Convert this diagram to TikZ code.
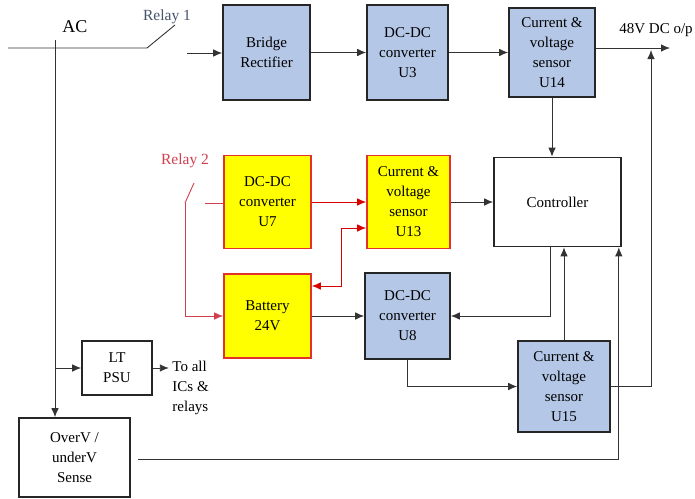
\documentclass[tikz,border=0pt]{standalone}
\usepackage{fontspec}
\setmainfont{Liberation Serif}
\newfontfamily\diafont{Liberation Serif}
\usepackage{xcolor}
\usetikzlibrary{arrows.meta,positioning,calc}

\definecolor{blockblue}{HTML}{B4C7E7}
\definecolor{blockyel}{HTML}{FFFF00}
\definecolor{yelrim}{HTML}{E2322A}
\definecolor{relayred}{HTML}{D0404F}
\definecolor{relayblue}{HTML}{44546A}
\definecolor{wire}{HTML}{333333}

\begin{document}
\begin{tikzpicture}[x=1pt,y=-1pt,
    font=\diafont\fontsize{15}{20}\selectfont,
    blk/.style={rectangle,draw=black!85,line width=1.6pt,align=center,inner sep=1pt},
    bluebox/.style={blk,fill=blockblue},
    yelbox/.style={blk,fill=blockyel,draw=yelrim},
    plainbox/.style={blk,fill=white},
    >={Latex[length=9pt,width=7.5pt]},
    every path/.style={line width=0.9pt},
    redline/.style={draw=relayred,line width=0.9pt}]
    \useasboundingbox (0,0) rectangle (695,498);
    % power path
    \node[bluebox,minimum width=87pt,minimum height=95pt] (bridge) at (266.5,52.5) {Bridge\\Rectifier};
    \node[bluebox,minimum width=81pt,minimum height=95pt] (u3) at (407.5,52.5) {DC-DC\\converter\\U3};
    \node[bluebox,minimum width=86pt,minimum height=89pt] (u14) at (552,52.5) {Current \&\\voltage\\sensor\\U14};
    \node[plainbox,minimum width=127pt,minimum height=89pt] (ctrl) at (557.5,202) {Controller};
    % battery side
    \node[yelbox,minimum width=87pt,minimum height=93pt] (u7) at (267.5,202) {DC-DC\\converter\\U7};
    \node[yelbox,minimum width=83pt,minimum height=93pt] (u13) at (408.5,202) {Current \&\\voltage\\sensor\\U13};
    \node[yelbox,minimum width=87pt,minimum height=84pt] (bat) at (267.5,316) {Battery\\24V};
    \node[bluebox,minimum width=85pt,minimum height=86pt] (u8) at (407.5,316) {DC-DC\\converter\\U8};
    \node[bluebox,minimum width=92pt,minimum height=91pt] (u15) at (564,386.5) {Current \&\\voltage\\sensor\\U15};
    % low voltage
    \node[plainbox,minimum width=70pt,minimum height=54pt] (ltpsu) at (117,368) {LT\\PSU};
    \node[plainbox,minimum width=111pt,minimum height=79pt] (ovsense) at (74.5,457.5) {OverV /\\underV\\Sense};

    % labels
    \node[font=\diafont\fontsize{18}{20}\selectfont] (aclbl) at (75,27) {AC};
    \node[text=relayblue,font=\diafont\fontsize{15.5}{18}\selectfont] (r1lbl) at (167,17) {Relay 1};
    \node[text=relayred,font=\diafont\fontsize{15.5}{18}\selectfont] (r2lbl) at (185,161) {Relay 2};
    \node (outlbl) at (656,30) {48V DC o/p};
    \node[anchor=west,align=left,inner sep=0pt] (icslbl) at (172,388) {To all\\ICs \&\\relays};

    \coordinate (acL) at (8,48);
    \coordinate (acK) at (147,48);
    \coordinate (r1top) at (175,25);
    \coordinate (r1out) at (187,53);
    \coordinate (acTop) at (55,40);
    \coordinate (dcout) at (670,48);
    \coordinate (tap) at (651,50);
    \coordinate (r2top) at (194,183);
    \coordinate (r2pivot) at (185,203);
    \coordinate (r2out) at (205,203);

    % AC input and relay 1
    \draw[wire] (acL) -- (acK) -- (r1top);
    \draw[wire,->] (r1out) -- (r1out -| bridge.west);
    \draw[wire,->] (acTop) -- (acTop |- ovsense.north);
    \draw[wire,->] (acTop |- ltpsu.west) -- (ltpsu.west);
    \draw[wire,->] (ltpsu.east) -- ++(16,0);

    \foreach \a/\b in {bridge/u3,u3/u14,bat/u8,u13/ctrl} {
      \draw[wire,->] (\a) -- (\b);
    }
    \draw[wire,->] (u14.east |- dcout) -- (dcout);
    \draw[wire,->] (u14.south) -- (u14.south |- ctrl.north);
    \draw[wire,->] (u15.east) -| (tap);
    \draw[wire,->] (u15.north) -- (u15.north |- ctrl.south);
    \draw[wire,->] ([xshift=-7.5pt]ctrl.south) |- (u8.east);
    \draw[wire,->] (u8.south) |- (u15.west);
    \draw[wire,->] ([xshift=7pt,yshift=-1.5pt]ovsense.east) -| ([xshift=-3pt]ctrl.south east);

    % relay 2 and battery charging
    \draw[redline] (r2top) -- (r2pivot);
    \draw[redline,->] (r2pivot) |- (bat.west);
    \draw[redline] (r2out) -- (r2out -| u7.west);
    \draw[redline,->,red!85!black] (u7) -- (u13);
    \draw[redline,<->,red!85!black] (bat.east |- 0,286) -| (341,228) -- (u13.west |- 0,228);
\end{tikzpicture}
\end{document}
